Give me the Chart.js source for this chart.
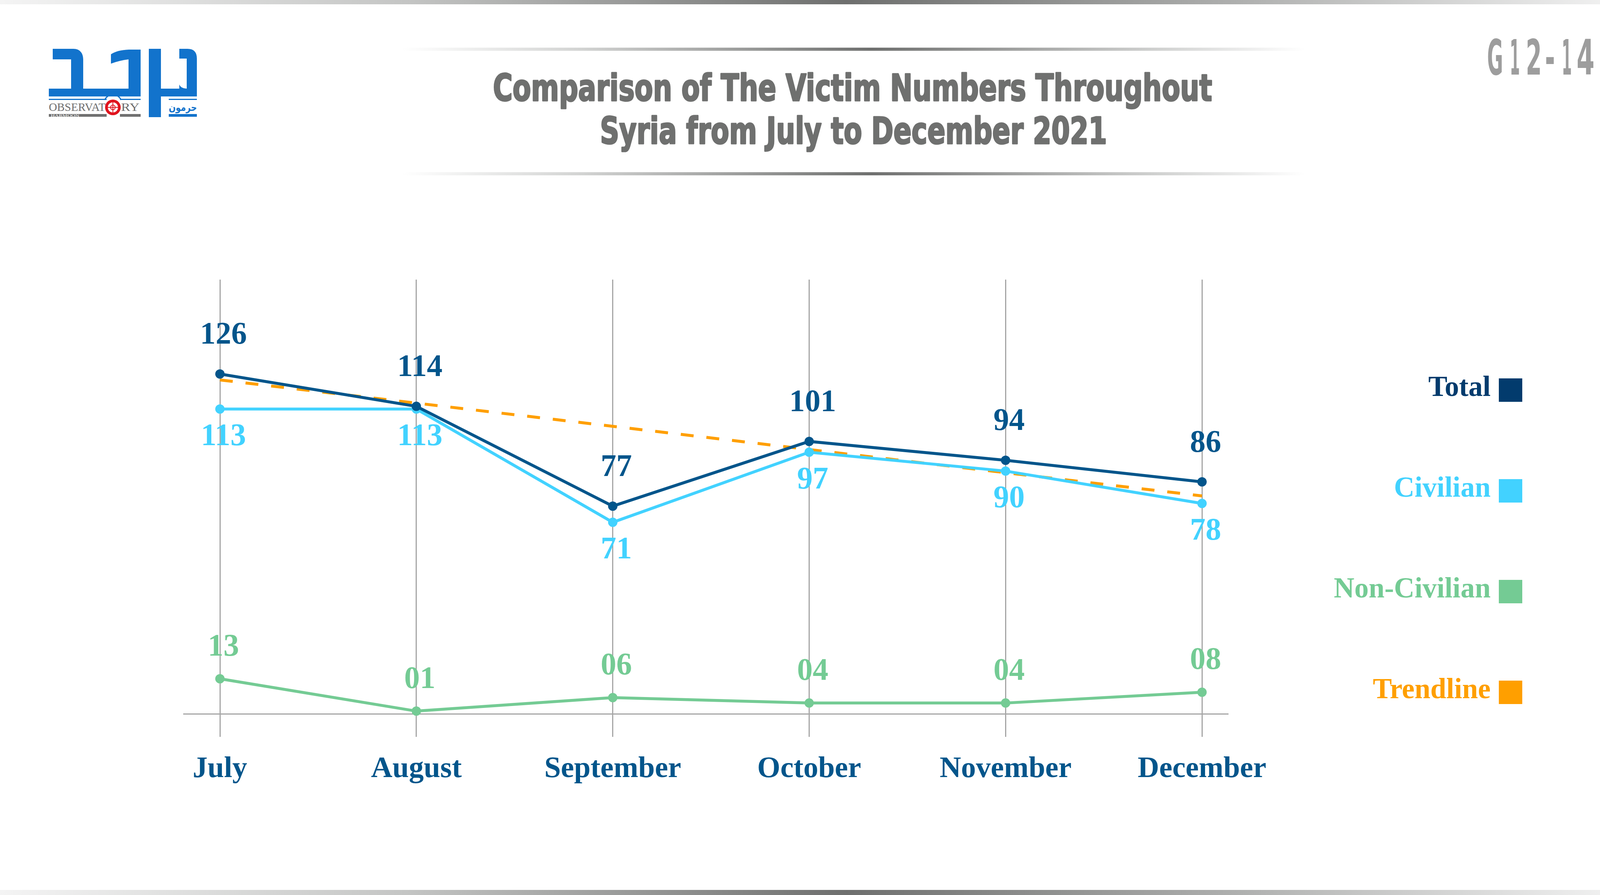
<!DOCTYPE html>
<html>
<head>
<meta charset="utf-8">
<script src="https://cdn.jsdelivr.net/npm/chart.js@4.4.1/dist/chart.umd.min.js"></script>
<style>
  html, body { margin: 0; padding: 0; background: #ffffff; }
  #page { position: relative; width: 4167px; height: 2292px; overflow: hidden; background: #ffffff; }
  #deco { position: absolute; left: 0; top: 0; }
  #chart { position: absolute; left: 0; top: 0; }
  .lg-text { position: absolute; font-family: "Liberation Serif", "DejaVu Serif", serif; font-weight: bold; font-size: 73px; line-height: 60px; height: 60px; text-align: right; white-space: nowrap; }
  .lg-box { position: absolute; width: 60px; height: 60px; }
</style>
</head>
<body>
<div id="page">
  <svg id="deco" width="4167" height="2292" viewBox="0 0 4167 2292" xmlns="http://www.w3.org/2000/svg">
    <defs>
      <linearGradient id="barGrad" x1="0" y1="0" x2="1" y2="0">
        <stop offset="0" stop-color="#f4f4f4"/>
        <stop offset="0.25" stop-color="#c4c5c4"/>
        <stop offset="0.52" stop-color="#6e6f6e"/>
        <stop offset="0.78" stop-color="#b4b5b4"/>
        <stop offset="1" stop-color="#f4f4f4"/>
      </linearGradient>
      <linearGradient id="lineGrad" x1="0" y1="0" x2="1" y2="0">
        <stop offset="0" stop-color="#ffffff"/>
        <stop offset="0.2" stop-color="#d2d3d2"/>
        <stop offset="0.52" stop-color="#6f706f"/>
        <stop offset="0.8" stop-color="#c6c7c6"/>
        <stop offset="1" stop-color="#ffffff"/>
      </linearGradient>
    </defs>
    <!-- top and bottom bars -->
    <rect x="0" y="0" width="4167" height="11" fill="url(#barGrad)"/>
    <rect x="0" y="2279" width="4167" height="13" fill="url(#barGrad)"/>
    <!-- title rules -->
    <rect x="1030" y="122" width="2310" height="8" fill="url(#lineGrad)"/>
    <rect x="1030" y="441" width="2310" height="8" fill="url(#lineGrad)"/>
    <!-- title -->
    <g font-family="'Liberation Sans Narrow','DejaVu Sans Condensed','Liberation Sans',sans-serif" font-weight="bold" font-size="94" fill="#6f706f" stroke="#6f706f" stroke-width="3.5" stroke-linejoin="round">
      <text x="1262" y="258" textLength="1841" lengthAdjust="spacingAndGlyphs">Comparison of The Victim Numbers Throughout</text>
      <text x="1536" y="368" textLength="1298" lengthAdjust="spacingAndGlyphs">Syria from July to December 2021</text>
    </g>
    <!-- code -->
    <g font-family="'Liberation Sans Narrow','DejaVu Sans Condensed','Liberation Sans',sans-serif" font-weight="bold" font-size="124" fill="#9d9d9d" lengthAdjust="spacingAndGlyphs">
      <text x="3807" y="191" textLength="41" lengthAdjust="spacingAndGlyphs">G</text>
      <text x="3865" y="191" textLength="26" lengthAdjust="spacingAndGlyphs">1</text>
      <text x="3906" y="191" textLength="41" lengthAdjust="spacingAndGlyphs">2</text>
      <text x="3955" y="191" textLength="26" lengthAdjust="spacingAndGlyphs">-</text>
      <text x="3998" y="191" textLength="26" lengthAdjust="spacingAndGlyphs">1</text>
      <text x="4036" y="191" textLength="46" lengthAdjust="spacingAndGlyphs">4</text>
    </g>
    <!-- logo -->
    <g fill="#1273cc">
      <path d="M135,125 H188 C205,125 213,137 213,152 V227 H182 V152 H135 Z"/>
      <rect x="125" y="227" width="235" height="20"/>
      <path d="M284,139 Q300,128 330,127 L360,127 L360,227 L329,227 L329,152 Q305,155 284,163 Z"/>
      <rect x="381" y="125" width="31" height="175"/>
      <path d="M459,125 H480 Q504,125 504,150 V247 H412 V227 H478 V150 H459 Z"/>
      <path d="M459,216 Q462,226 478,227 H459 Z"/>
      <rect x="125" y="253" width="148" height="3"/>
      <rect x="307" y="253" width="53" height="3"/>
      <rect x="432" y="253" width="72" height="3"/>
      <rect x="432" y="292" width="72" height="7"/>
    </g>
    <path d="M268,256 A23,23 0 0 1 310,256" fill="none" stroke="#1273cc" stroke-width="3"/>
    <text x="432" y="284" font-family="'DejaVu Sans',sans-serif" font-weight="bold" font-size="26" fill="#1273cc" textLength="72" lengthAdjust="spacingAndGlyphs">حرمون</text>
    <text x="125" y="284" font-family="'Liberation Serif',serif" font-size="30" fill="#6d6d6d" textLength="145" lengthAdjust="spacingAndGlyphs">OBSERVAT</text>
    <text x="310" y="284" font-family="'Liberation Serif',serif" font-size="30" fill="#6d6d6d" textLength="47" lengthAdjust="spacingAndGlyphs">RY</text>
    <rect x="125" y="292" width="148" height="7" fill="#707070"/>
    <rect x="307" y="292" width="53" height="7" fill="#707070"/>
    <text x="130" y="298.5" font-family="'Liberation Serif',serif" font-size="8" fill="#ffffff" textLength="73" lengthAdjust="spacingAndGlyphs">HARMOON</text>
    <circle cx="289" cy="275" r="20" fill="#e0141e"/>
    <circle cx="289" cy="275" r="13" fill="#ffffff"/>
    <circle cx="289" cy="275" r="6" fill="none" stroke="#e0141e" stroke-width="2"/>
    <line x1="276" y1="275" x2="302" y2="275" stroke="#e0141e" stroke-width="2"/>
    <line x1="289" y1="262" x2="289" y2="288" stroke="#e0141e" stroke-width="2"/>
  </svg>
  <canvas id="chart" width="4167" height="2292" style="width:4167px;height:2292px"></canvas>
  <div id="legend"></div>
</div>
<script>
// ---- data ----
const months = ['July', 'August', 'September', 'October', 'November', 'December'];
const totalValues = [126, 114, 77, 101, 94, 86];
const civilianValues = [113, 113, 71, 97, 90, 78];
const nonCivilianValues = [13, 1, 6, 4, 4, 8];
const trendValues = [123.8, 115.2, 106.6, 98.0, 89.4, 80.8];
const seriesNames = ['Total', 'Civilian', 'Non-Civilian', 'Trendline'];

// ---- styles ----
const COLORS = {
  total: '#02558b', totalLegend: '#023b6d',
  civilian: '#42d2ff', nonCivilian: '#74cb94', trend: '#ff9f00',
  grid: '#a6a6a6'
};
const toPoints = (arr) => arr.map((v, i) => ({ x: i, y: v }));

const valueLabelPlugin = {
  id: 'valueLabels',
  afterDatasetsDraw(chart) {
    const ctx = chart.ctx;
    chart.data.datasets.forEach((ds, di) => {
      if (!ds.valueLabel) return;
      const meta = chart.getDatasetMeta(di);
      ctx.save();
      ctx.font = 'bold 80px "Liberation Serif", "DejaVu Serif", serif';
      ctx.fillStyle = ds.valueLabel.color;
      ctx.textAlign = 'center';
      ctx.textBaseline = 'middle';
      meta.data.forEach((pt, i) => {
        const raw = ds.data[i].y;
        const txt = ds.valueLabel.pad ? String(raw).padStart(2, '0') : String(raw);
        ctx.fillText(txt, pt.x + 9, pt.y + ds.valueLabel.offset);
      });
      ctx.restore();
    });
  }
};

const chart = new Chart(document.getElementById('chart'), {
  type: 'line',
  data: {
    datasets: [
      { label: seriesNames[0], data: toPoints(totalValues), borderColor: COLORS.total, backgroundColor: COLORS.total,
        legendColor: COLORS.totalLegend, borderWidth: 7.5, pointRadius: 12, pointBorderWidth: 0, pointBackgroundColor: COLORS.total,
        tension: 0, clip: false, valueLabel: { color: COLORS.total, offset: -98 } },
      { label: seriesNames[1], data: toPoints(civilianValues), borderColor: COLORS.civilian, backgroundColor: COLORS.civilian,
        legendColor: COLORS.civilian, borderWidth: 7.5, pointRadius: 12, pointBorderWidth: 0, pointBackgroundColor: COLORS.civilian,
        tension: 0, clip: false, valueLabel: { color: COLORS.civilian, offset: 72 } },
      { label: seriesNames[2], data: toPoints(nonCivilianValues), borderColor: COLORS.nonCivilian, backgroundColor: COLORS.nonCivilian,
        legendColor: COLORS.nonCivilian, borderWidth: 7.5, pointRadius: 12, pointBorderWidth: 0, pointBackgroundColor: COLORS.nonCivilian,
        tension: 0, clip: false, valueLabel: { color: COLORS.nonCivilian, offset: -80, pad: true } },
      { label: seriesNames[3], data: toPoints(trendValues), borderColor: COLORS.trend, backgroundColor: COLORS.trend,
        legendColor: COLORS.trend, borderWidth: 7.5, borderDash: [33, 33], pointRadius: 0, tension: 0, clip: false }
    ]
  },
  options: {
    responsive: false,
    devicePixelRatio: 1,
    animation: false,
    layout: { padding: { left: 470, right: 1024, top: 716, bottom: 264 } },
    plugins: { legend: { display: false }, tooltip: { enabled: false }, title: { display: false } },
    scales: {
      x: {
        type: 'linear',
        min: -0.185,
        max: 5.131,
        afterBuildTicks: (scale) => { scale.ticks = months.map((m, i) => ({ value: i })); },
        afterFit: (scale) => { scale.height = 200; },
        ticks: {
          autoSkip: false, maxRotation: 0, minRotation: 0, padding: 38,
          color: COLORS.total,
          font: { family: '"Liberation Serif", "DejaVu Serif", serif', weight: 'bold', size: 76 },
          callback: (v) => months[v]
        },
        grid: { color: COLORS.grid, lineWidth: 3, tickLength: 59, tickColor: COLORS.grid, drawTicks: true },
        border: { display: true, color: COLORS.grid, width: 3 }
      },
      y: { display: false, min: 0, max: 161 }
    }
  },
  plugins: [valueLabelPlugin]
});

// ---- legend (built from datasets) ----
const legendEl = document.getElementById('legend');
const legendCenters = [999, 1257, 1515, 1773];
chart.data.datasets.forEach((ds, i) => {
  const c = legendCenters[i];
  const t = document.createElement('div');
  t.className = 'lg-text';
  t.textContent = ds.label;
  t.style.color = ds.legendColor;
  t.style.right = (4167 - 3816) + 'px';
  t.style.top = (c - 39) + 'px';
  legendEl.appendChild(t);
  const b = document.createElement('div');
  b.className = 'lg-box';
  b.style.background = ds.legendColor;
  b.style.left = '3837px';
  b.style.top = (c - 30) + 'px';
  legendEl.appendChild(b);
});
</script>
</body>
</html>
